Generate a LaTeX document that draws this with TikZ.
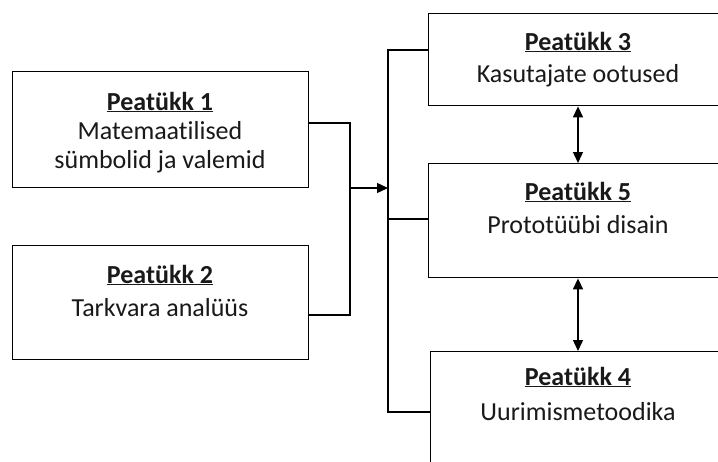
\documentclass[tikz,border=0pt]{standalone}
\usepackage{fontspec}
\setmainfont{Carlito}[Ligatures=NoCommon]
\usetikzlibrary{arrows.meta}

\tikzset{
  box/.style={draw=black, line width=1.4pt, fill=white, rectangle, anchor=north west, inner sep=0pt},
  txt/.style={anchor=base, align=center, inner sep=0pt, text=black!90, font=\fontsize{26pt}{33pt}\selectfont},
  wire/.style={line width=1.4pt, black},
  tip/.style={-{Triangle[length=11pt,width=10pt]}},
  twotip/.style={{Triangle[length=11pt,width=10pt]}-{Triangle[length=11pt,width=10pt]}}
}

\begin{document}
\begin{tikzpicture}[x=1pt,y=-1pt]
\useasboundingbox (0,0) rectangle (718,461);
\clip (0,0) rectangle (718,461);

% left column
\node (b1) at (12,71) [box, minimum width=296pt, minimum height=116pt] {};
\node (b2) at (12,245) [box, minimum width=296pt, minimum height=114pt] {};
% right column (runs past the page edge)
\node (b3) at (428,13) [box, minimum width=300pt, minimum height=92pt] {};
\node (b5) at (428,163) [box, minimum width=300pt, minimum height=114pt] {};
\node (b4) at (430,351) [box, minimum width=300pt, minimum height=130pt] {};

% base = baseline of the last line
\node (t1) at (160,168) [txt, font=\fontsize{26pt}{29pt}\selectfont] {\underline{\textbf{Peatükk 1}}\\Matemaatilised\\sümbolid ja valemid};
\node (t2) at (160,316) [txt] {\underline{\textbf{Peatükk 2}}\\Tarkvara analüüs};
\node (t3) at (578,82) [txt, font=\fontsize{26pt}{32pt}\selectfont] {\underline{\textbf{Peatükk 3}}\\Kasutajate ootused};
\node (t5) at (578,233) [txt] {\underline{\textbf{Peatükk 5}}\\Prototüübi disain};
\node (t4) at (578,420) [txt, font=\fontsize{26pt}{35pt}\selectfont] {\underline{\textbf{Peatükk 4}}\\Uurimismetoodika};

\coordinate (j1) at (350,123);
\coordinate (j2) at (350,315);
\coordinate (jm) at (350,188);
\coordinate (k3) at (388,50);
\coordinate (k5) at (388,219);
\coordinate (k4) at (388,412);
\coordinate (km) at (388,188);

\draw[wire] (b1.east |- j1) -- (j1) -- (j2) -- (b2.east |- j2);
\draw[wire,tip] (jm) -- (km);
\draw[wire] (b3.west |- k3) -- (k3) -- (k4) -- (b4.west |- k4);
\draw[wire] (k5) -- (b5.west |- k5);

\foreach \u/\v in {b3/b5,b5/b4}
    \draw[wire,twotip] (\u.south -| 578,0) -- (\v.north -| 578,0);

\end{tikzpicture}
\end{document}
